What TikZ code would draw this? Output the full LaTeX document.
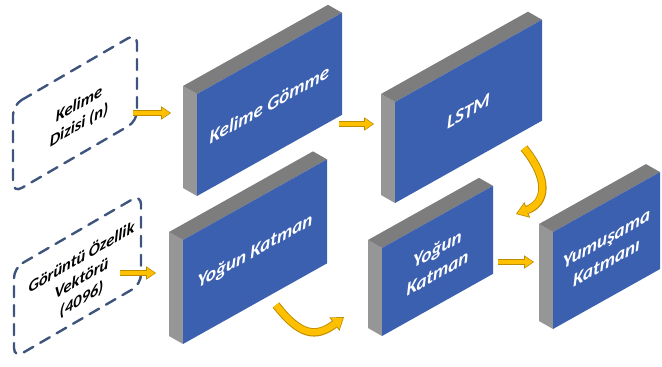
\documentclass[tikz,border=0pt]{standalone}
\usepackage{fontspec}
\setmainfont{Carlito}
\usetikzlibrary{calc,arrows.meta}

\definecolor{panelblue}{RGB}{60,96,176}
\definecolor{sidegray}{RGB}{150,150,150}
\definecolor{topgray}{RGB}{125,125,125}
\definecolor{dashblue}{RGB}{62,84,125}
\definecolor{arrowfill}{RGB}{255,192,0}
\definecolor{arrowedge}{RGB}{190,140,0}

\tikzset{
  paneltext/.style={text=white, font=\bfseries\itshape\fontsize{19}{24}\selectfont, align=center, yslant=0.56},
  cardtext/.style={text=black, font=\bfseries\itshape\fontsize{16.5}{21}\selectfont, align=center, yslant=0.58},
  card/.style={draw=dashblue, line width=2.4pt, dash pattern=on 11pt off 8pt, line cap=round, rounded corners=10pt},
  flow/.style={line width=4.6pt, draw=arrowfill, shorten >=1.3pt,
    -{Triangle[length=7.6pt,width=10.4pt,line width=0pt]},
    preaction={draw=arrowedge, line width=6.6pt, shorten >=0pt,
      -{Triangle[length=9.8pt,width=13.4pt,line width=0pt]}}},
  bigflow/.style={line width=6.4pt, draw=arrowfill, shorten >=1.4pt,
    -{Triangle[length=9.6pt,width=13.6pt,line width=0pt]},
    preaction={draw=arrowedge, line width=8.4pt, shorten >=0pt,
      -{Triangle[length=12pt,width=16.8pt,line width=0pt]}}},
}

% layer block: name, x and y of the front top-left corner, width, height, label
\newcommand{\layerpanel}[6]{%
  \coordinate (#1-tl) at (#2,#3);
  \coordinate (#1-tr) at (#2+#4,#3-0.56*#4);
  \coordinate (#1-br) at (#2+#4,#3-0.56*#4+#5);
  \coordinate (#1-bl) at (#2,#3+#5);
  \fill[sidegray] (#1-tl) -- ++(-14,-8) -- ++(0,#5) -- (#1-bl) -- cycle;
  \fill[topgray] (#1-tl) -- ++(-14,-8) -- ($(#1-tr)+(-14,-8)$) -- (#1-tr) -- cycle;
  \fill[panelblue] (#1-tl) -- (#1-tr) -- (#1-br) -- (#1-bl) -- cycle;
  \node[paneltext] (#1) at ($(#1-tl)!0.5!(#1-br)$) {#6};
}

% dashed input card, same arguments
\newcommand{\inputcard}[6]{%
  \coordinate (#1-tl) at (#2,#3);
  \coordinate (#1-tr) at (#2+#4,#3-0.58*#4);
  \coordinate (#1-br) at (#2+#4,#3-0.58*#4+#5);
  \coordinate (#1-bl) at (#2,#3+#5);
  \draw[card] (#1-tl) -- (#1-tr) -- (#1-br) -- (#1-bl) -- cycle;
  \node[cardtext] (#1) at ($(#1-tl)!0.5!(#1-br)+(4,2)$) {#6};
}

\begin{document}
\begin{tikzpicture}[x=1pt,y=-1pt]
  \useasboundingbox (0,0) rectangle (662,367);

  % inputs
  \inputcard{words}{13}{105}{124}{88}{Kelime\\Dizisi (n)}
  \inputcard{features}{14}{268}{127}{90}{Görüntü Özellik\\Vektörü\\(4096)}

  % layers
  \layerpanel{embed}{197}{94}{145}{102}{Kelime Gömme}
  \layerpanel{lstm}{395}{102}{147}{101}{LSTM}
  \layerpanel{dense1}{183}{240}{144}{104}{Yoğun Katman}
  \layerpanel{dense2}{382}{248}{111}{88}{Yoğun\\Katman}
  \layerpanel{softmax}{553}{232}{107}{97}{Yumuşama\\Katmanı}

  % arrow ends
  \coordinate (words-out) at (133,113);
  \coordinate (embed-in) at (171,113);
  \coordinate (embed-out) at (339,124);
  \coordinate (lstm-in) at (374,124);
  \coordinate (features-out) at (120,273);
  \coordinate (dense1-in) at (156,273);
  \coordinate (dense2-out) at (498,262);
  \coordinate (softmax-in) at (534,262);
  \coordinate (lstm-out) at (524,148);
  \coordinate (dense2-top) at (516,214);
  \coordinate (dense1-out) at (276,305);
  \coordinate (dense2-foot) at (344,317);

  \draw[flow] (words-out) -- (embed-in);
  \draw[flow] (embed-out) -- (lstm-in);
  \draw[flow] (features-out) -- (dense1-in);
  \draw[flow] (dense2-out) -- (softmax-in);
  \draw[bigflow] (lstm-out) .. controls (550,180) and (546,203) .. (dense2-top);
  \draw[bigflow] (dense1-out) .. controls (300,336) and (316,338) .. (dense2-foot);
\end{tikzpicture}
\end{document}
